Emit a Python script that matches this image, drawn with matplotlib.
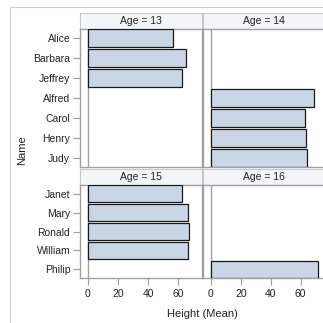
import matplotlib.pyplot as plt
from matplotlib.patches import Rectangle

plt.rcParams['font.family'] = ['Liberation Sans', 'DejaVu Sans']

# data (mean height per student, by age)
ages = [13, 14, 15, 16]
names_top = ['Alice', 'Barbara', 'Jeffrey', 'Alfred', 'Carol', 'Henry', 'Judy']
names_bottom = ['Janet', 'Mary', 'Ronald', 'William', 'Philip']
names_by_age = {
    13: ['Alice', 'Barbara', 'Jeffrey'],
    14: ['Alfred', 'Carol', 'Henry', 'Judy'],
    15: ['Janet', 'Mary', 'Ronald', 'William'],
    16: ['Philip'],
}
heights_by_age = {
    13: [56.5, 65.3, 62.5],
    14: [69.0, 62.8, 63.5, 64.3],
    15: [62.5, 66.5, 67.0, 66.5],
    16: [72.0],
}
xticks = [0, 20, 40, 60]

W = H = 323
fig = plt.figure(figsize=(W / 100, H / 100), dpi=100)
fig.patch.set_facecolor('white')

def box(x0, y0, x1, y1):
    # pixel box (top-left origin) -> figure fraction rect
    return [x0 / W, 1 - y1 / H, (x1 - x0) / W, (y1 - y0) / H]

# outer frame
fig.add_artist(Rectangle((10 / W, -0.1), 1.2, 1 - 7 / H + 0.1, transform=fig.transFigure,
                         fill=False, edgecolor='#d0d0d0', linewidth=0.8))

cols = [(80, 202), (203, 324)]
rows = [((13, 29), (29, 167), names_top), ((169, 185), (185, 278), names_bottom)]
grid_col = '#a0a0a0'
bar_fill = '#cad5e5'

for i, age in enumerate(ages):
    r, c = divmod(i, 2)
    (hy0, hy1), (dy0, dy1), row_names = rows[r]
    cx0, cx1 = cols[c]

    # header strip
    hax = fig.add_axes(box(cx0, hy0, cx1, hy1))
    hax.set_facecolor('#f3f5f9')
    hax.set_xticks([])
    hax.set_yticks([])
    for s in hax.spines.values():
        s.set_color('#c8c8c8')
        s.set_linewidth(0.8)
    hax.text(0.5, 0.5, f'Age = {age}', ha='center', va='center', fontsize=7.5,
             color='#222222', transform=hax.transAxes)

    # data cell
    ax = fig.add_axes(box(cx0, dy0, cx1, dy1))
    ypos = [row_names.index(n) for n in names_by_age[age]]
    ax.barh(ypos, heights_by_age[age], height=0.86, color=bar_fill,
            edgecolor='#1a1a1a', linewidth=0.9, zorder=3)
    ax.axvline(0, color=grid_col, linewidth=1.0, zorder=2)
    ax.set_xlim(-5.3, 75.7)
    ax.set_ylim(len(row_names) - 0.55, -0.45)
    for s in ax.spines.values():
        s.set_color(grid_col)
        s.set_linewidth(1.0)
    ax.set_yticks(range(len(row_names)))
    if c == 0:
        ax.set_yticklabels(row_names, fontsize=7.5, color='#222222')
        ax.tick_params(axis='y', length=5, color=grid_col, pad=2)
    else:
        ax.tick_params(axis='y', left=False, labelleft=False)
    ax.set_xticks(xticks)
    if r == 1:
        ax.set_xticklabels([str(t) for t in xticks], fontsize=7.5, color='#222222')
        ax.tick_params(axis='x', length=5, color=grid_col, pad=3)
    else:
        ax.tick_params(axis='x', bottom=False, labelbottom=False)

fig.text(22 / W, 1 - 150 / H, 'Name', rotation=90, ha='center', va='center',
         fontsize=8, color='#222222')
fig.text(202 / W, 1 - 314 / H, 'Height (Mean)', ha='center', va='center',
         fontsize=8, color='#222222')

fig.savefig('out.png', dpi=100)
